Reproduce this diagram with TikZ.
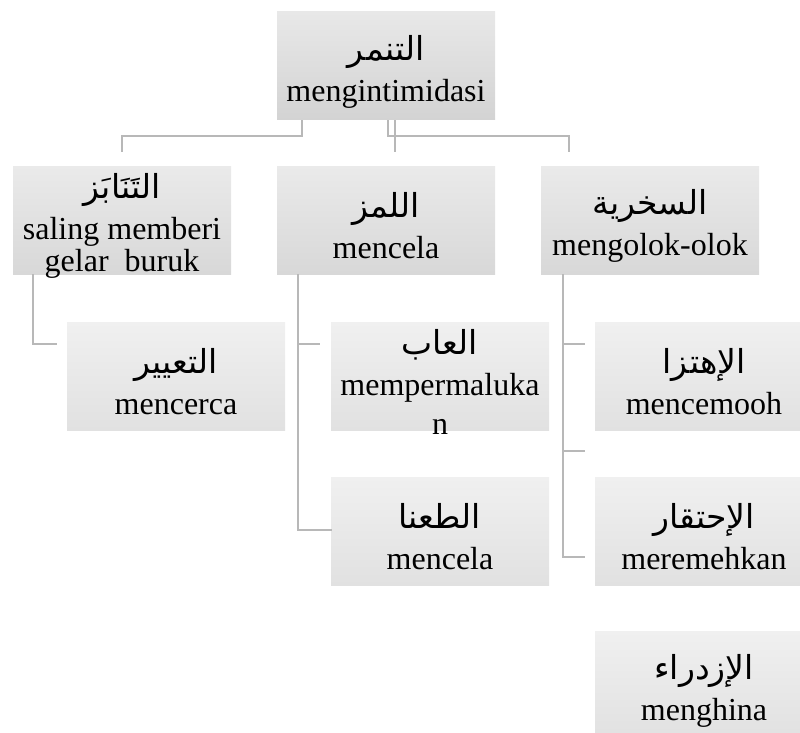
\documentclass[tikz,border=0pt]{standalone}
\usepackage{fontspec}
\setmainfont{Liberation Serif}
\newfontfamily\arabicfont[Script=Arabic]{DejaVu Sans}
\TeXXeTstate=1
\definecolor{linegray}{HTML}{B8B8B8}
\definecolor{rootTop}{HTML}{E8E8E8}
\definecolor{rootBot}{HTML}{D3D3D3}
\definecolor{kindTop}{HTML}{EAEAEA}
\definecolor{kindBot}{HTML}{D8D8D8}
\definecolor{subTop}{HTML}{F0F0F0}
\definecolor{subBot}{HTML}{E1E1E1}
\newcommand{\artext}[1]{{\arabicfont\fontsize{33}{34}\selectfont\beginR #1\endR}}
% box text: arabic term, then its meaning; kept to the box size even if it runs over
\newcommand{\celltext}[2]{\begin{minipage}[c][108pt][c]{218pt}\centering
  \vspace*{12pt}\leavevmode\artext{#1}\\[6pt]#2\end{minipage}}

\begin{document}
\begin{tikzpicture}[x=1pt,y=-1pt,
    cell/.style={inner sep=0pt,minimum width=218pt,minimum height=108pt,font=\fontsize{32}{35}\selectfont},
    root/.style={cell,top color=rootTop,bottom color=rootBot},
    kind/.style={cell,top color=kindTop,bottom color=kindBot},
    sub/.style={cell,top color=subTop,bottom color=subBot},
    link/.style={draw=linegray,line width=1.6pt}]
  \clip (0,0) rectangle (800,733);

  % top
  \node[root] (tanamur) at (386,66) {\celltext{التنمر}{mengintimidasi}};

  % three kinds
  \node[kind] (tanabuz) at (122,220) {\celltext{التَنَابَز}{saling memberi\\[-3pt]gelar~ buruk}};
  \node[kind] (lamz) at (386,220) {\celltext{اللمز}{mencela}};
  \node[kind] (sukhriya) at (650,220) {\celltext{السخرية}{mengolok-olok}};

  % sub items
  \node[sub] (taayir) at (176,376) {\celltext{التعيير}{mencerca}};
  \node[sub] (aib) at (440,376) {\celltext{العاب}{mempermaluka\\[4pt]n}};
  \node[sub] (tana) at (440,531) {\celltext{الطعنا}{mencela}};
  \node[sub] (ihtiza) at (704,376) {\celltext{الإهتزا}{mencemooh}};
  \node[sub] (ihtiqar) at (704,531) {\celltext{الإحتقار}{meremehkan}};
  \node[sub] (izdira) at (704,685) {\celltext{الإزدراء}{menghina}};

  % connectors from the top box
  \draw[link] ([xshift=-84pt]tanamur.south) |- ([yshift=30pt]tanabuz.north) -- ([yshift=14pt]tanabuz.north);
  \draw[link] ([xshift=9pt]tanamur.south) -- ([xshift=9pt,yshift=14pt]lamz.north);
  \draw[link] ([xshift=2pt]tanamur.south) |- ([xshift=-81pt,yshift=30pt]sukhriya.north) -- ([xshift=-81pt,yshift=14pt]sukhriya.north);

  % connectors to the sub items
  \draw[link] ([xshift=-89pt]tanabuz.south) |- ([xshift=-10pt,yshift=32pt]taayir.west);
  \draw[link] ([xshift=-88pt]lamz.south) |- ([xshift=1pt,yshift=1pt]tana.west);
  \draw[link] ([xshift=-11pt,yshift=32pt]aib.west) -| ([xshift=-88pt]lamz.south);
  \draw[link] ([xshift=-87pt]sukhriya.south) |- ([xshift=-10pt,yshift=-26pt]ihtiqar.west);
  \draw[link] ([xshift=-10pt,yshift=32pt]ihtiza.west) -| ([xshift=-87pt]sukhriya.south);
  \draw[link] ([xshift=-10pt,yshift=80pt]ihtiqar.west) -| ([xshift=-87pt]sukhriya.south);
\end{tikzpicture}
\end{document}
